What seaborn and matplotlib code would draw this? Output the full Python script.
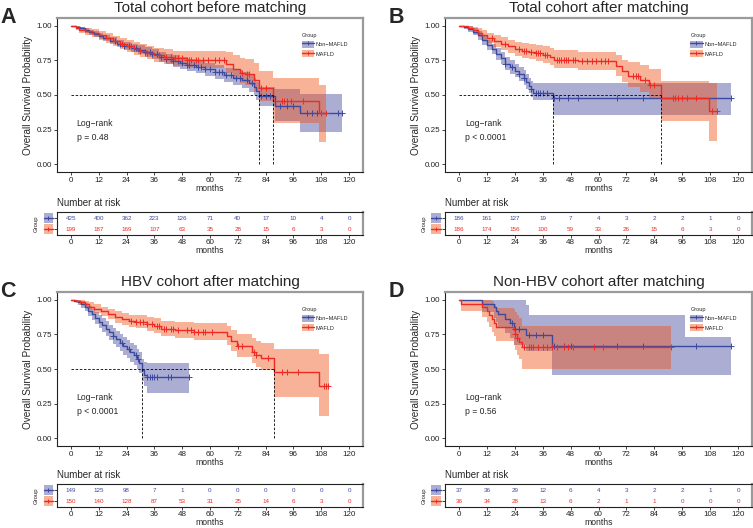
import numpy as np
import matplotlib
matplotlib.use("Agg")
import matplotlib.pyplot as plt
import seaborn as sns
from matplotlib.patches import Patch, Rectangle
from matplotlib.lines import Line2D
from matplotlib.transforms import blended_transform_factory

sns.set_style("ticks")
plt.rcParams["font.family"] = ["Liberation Sans", "DejaVu Sans"]

W, H = 753, 528

# Colours (fills are drawn with FILL_ALPHA)
NON_LINE = "#3B4A9E"
NON_FILL = "#474B9F"
MAF_LINE = "#EE2A24"
MAF_FILL = "#EF541A"
FILL_ALPHA = 0.45

# ---------------- Panel A: total cohort before matching ----------------
A_non_t = [0, 2, 4, 6, 8, 10, 12, 14, 17, 20, 23, 26, 29, 32, 35, 38, 41, 44, 47, 50, 54, 58, 62, 66, 70, 74, 77, 79, 80, 81, 88, 99, 117]
A_non_s = [1.0, 0.99, 0.98, 0.965, 0.952, 0.94, 0.928, 0.912, 0.89, 0.87, 0.855, 0.84, 0.825, 0.81, 0.795, 0.775, 0.76, 0.745, 0.73, 0.715, 0.70, 0.685, 0.665, 0.645, 0.625, 0.61, 0.585, 0.56, 0.53, 0.49, 0.42, 0.37, 0.37]
A_non_lo = [1.0, 0.98, 0.967, 0.95, 0.935, 0.92, 0.905, 0.888, 0.865, 0.843, 0.826, 0.81, 0.793, 0.777, 0.76, 0.738, 0.722, 0.705, 0.688, 0.672, 0.655, 0.638, 0.616, 0.594, 0.572, 0.553, 0.525, 0.497, 0.463, 0.42, 0.31, 0.23, 0.23]
A_non_hi = [1.0, 1.0, 0.993, 0.98, 0.97, 0.96, 0.95, 0.936, 0.915, 0.897, 0.884, 0.87, 0.857, 0.843, 0.83, 0.812, 0.798, 0.785, 0.772, 0.758, 0.745, 0.732, 0.714, 0.696, 0.678, 0.667, 0.645, 0.623, 0.597, 0.56, 0.54, 0.51, 0.51]
A_non_cens = [19, 21, 23, 25, 27, 28, 30, 32, 34, 35, 37, 39, 41, 43, 44, 46, 48, 50, 51, 53, 55, 56, 58, 60, 62, 64, 65, 67, 69, 71, 73, 76, 78, 82, 84, 86, 90, 93, 96, 102, 104, 106, 115, 117]

A_maf_t = [0, 2, 3.5, 6, 9, 12, 15, 18, 21, 24, 27, 30, 33, 36, 40, 44, 50, 67, 70, 73, 75, 79, 81, 87, 107, 110]
A_maf_s = [1.0, 0.985, 0.97, 0.96, 0.945, 0.93, 0.91, 0.89, 0.87, 0.85, 0.835, 0.82, 0.805, 0.79, 0.775, 0.765, 0.755, 0.72, 0.69, 0.66, 0.65, 0.61, 0.55, 0.46, 0.37, 0.37]
A_maf_lo = [1.0, 0.968, 0.948, 0.935, 0.917, 0.9, 0.876, 0.853, 0.83, 0.808, 0.79, 0.773, 0.756, 0.739, 0.722, 0.71, 0.698, 0.655, 0.62, 0.585, 0.572, 0.525, 0.455, 0.30, 0.16, 0.16]
A_maf_hi = [1.0, 1.0, 0.993, 0.986, 0.975, 0.962, 0.945, 0.928, 0.91, 0.893, 0.88, 0.867, 0.853, 0.84, 0.828, 0.82, 0.815, 0.81, 0.79, 0.77, 0.76, 0.73, 0.67, 0.62, 0.57, 0.57]
A_maf_cens = [22, 26, 30, 33, 38, 41, 43, 45, 46, 48, 50, 51, 52, 54, 55, 57, 59, 62, 64, 66, 74, 76, 77, 82, 84, 91, 92, 93, 95, 100, 108, 110]

# ---------------- Panel B: total cohort after matching ----------------
B_non_t = [0, 2, 4, 6, 8, 10, 12, 14, 16, 18, 20, 22, 24, 26, 28, 29, 30, 31, 32, 40.5, 117]
B_non_s = [1.0, 0.99, 0.975, 0.955, 0.93, 0.895, 0.86, 0.83, 0.795, 0.765, 0.725, 0.70, 0.675, 0.65, 0.625, 0.595, 0.565, 0.54, 0.518, 0.475, 0.475]
B_non_lo = [1.0, 0.975, 0.955, 0.93, 0.9, 0.862, 0.824, 0.792, 0.755, 0.722, 0.68, 0.654, 0.627, 0.6, 0.573, 0.542, 0.511, 0.485, 0.462, 0.357, 0.357]
B_non_hi = [1.0, 1.0, 0.995, 0.98, 0.96, 0.93, 0.898, 0.87, 0.838, 0.81, 0.773, 0.75, 0.727, 0.705, 0.68, 0.652, 0.622, 0.598, 0.583, 0.587, 0.587]
B_non_cens = [20, 23, 26, 28, 31, 33, 34, 35, 36, 38, 41, 43, 47, 51, 68, 79, 117]

B_maf_t = [0, 2, 4, 6, 8, 10, 12, 15, 18, 21, 24, 27, 30, 33, 36, 39, 41, 51, 67.5, 70, 72.5, 78, 81.5, 87, 107.5, 111]
B_maf_s = [1.0, 0.995, 0.985, 0.965, 0.95, 0.93, 0.91, 0.89, 0.87, 0.85, 0.83, 0.82, 0.81, 0.80, 0.79, 0.775, 0.755, 0.742, 0.707, 0.67, 0.64, 0.61, 0.57, 0.475, 0.383, 0.383]
B_maf_lo = [1.0, 0.985, 0.968, 0.94, 0.92, 0.896, 0.872, 0.848, 0.825, 0.803, 0.78, 0.768, 0.756, 0.745, 0.732, 0.715, 0.693, 0.678, 0.635, 0.593, 0.557, 0.52, 0.47, 0.31, 0.17, 0.17]
B_maf_hi = [1.0, 1.0, 1.0, 0.99, 0.98, 0.965, 0.95, 0.933, 0.916, 0.90, 0.883, 0.875, 0.866, 0.858, 0.85, 0.838, 0.822, 0.812, 0.785, 0.755, 0.735, 0.715, 0.69, 0.60, 0.59, 0.59]
B_maf_cens = [14, 20, 26, 28, 29, 31, 33, 34, 35, 37, 38, 42, 43, 44, 45, 46, 47, 49, 50, 53, 55, 57, 59, 61, 63, 64, 75, 76, 77, 80, 82, 84, 92, 93, 94, 96, 98, 102, 109, 111]

# ---------------- Panel C: HBV cohort after matching ----------------
C_non_t = [0, 1.5, 3, 4.5, 6, 7.5, 9, 10.5, 12, 13.5, 15, 16.5, 18, 19.5, 21, 22.5, 24, 25.5, 27, 28.5, 29.5, 30.8, 31.5, 33, 51]
C_non_s = [1.0, 0.993, 0.98, 0.965, 0.945, 0.92, 0.895, 0.865, 0.84, 0.815, 0.79, 0.765, 0.74, 0.715, 0.69, 0.665, 0.645, 0.62, 0.60, 0.575, 0.545, 0.49, 0.46, 0.44, 0.44]
C_non_lo = [1.0, 0.98, 0.96, 0.94, 0.915, 0.885, 0.855, 0.822, 0.793, 0.765, 0.737, 0.71, 0.683, 0.656, 0.629, 0.602, 0.58, 0.553, 0.53, 0.503, 0.47, 0.41, 0.375, 0.33, 0.33]
C_non_hi = [1.0, 1.0, 1.0, 0.99, 0.975, 0.955, 0.935, 0.91, 0.888, 0.866, 0.843, 0.82, 0.797, 0.774, 0.751, 0.728, 0.71, 0.687, 0.67, 0.647, 0.62, 0.57, 0.55, 0.545, 0.545]
C_non_cens = [18, 22, 25, 28, 29, 33, 34, 35, 36, 37, 42, 43, 51]

C_maf_t = [0, 2, 4, 6, 8, 10, 13, 16, 19, 22, 25, 28, 33, 36, 39, 45, 53, 67.5, 69, 71.5, 78, 80, 82, 87.4, 107, 111.5]
C_maf_s = [1.0, 0.99, 0.98, 0.965, 0.95, 0.935, 0.915, 0.895, 0.875, 0.86, 0.845, 0.84, 0.825, 0.81, 0.79, 0.78, 0.77, 0.74, 0.70, 0.665, 0.62, 0.60, 0.58, 0.475, 0.38, 0.38]
C_maf_lo = [1.0, 0.975, 0.96, 0.94, 0.922, 0.905, 0.882, 0.858, 0.835, 0.818, 0.80, 0.793, 0.775, 0.758, 0.735, 0.722, 0.71, 0.675, 0.63, 0.59, 0.54, 0.515, 0.49, 0.30, 0.16, 0.16]
C_maf_hi = [1.0, 1.0, 1.0, 0.99, 0.98, 0.968, 0.95, 0.934, 0.918, 0.904, 0.892, 0.888, 0.876, 0.864, 0.848, 0.84, 0.834, 0.81, 0.78, 0.755, 0.72, 0.705, 0.69, 0.645, 0.61, 0.61]
C_maf_cens = [26, 28, 30, 31, 33, 35, 37, 38, 40, 41, 43, 44, 46, 50, 52, 53, 55, 57, 58, 61, 72, 74, 79, 80, 85, 91, 93, 98, 109, 110, 111]

# ---------------- Panel D: non-HBV cohort after matching ----------------
D_non_t = [0, 10, 15, 16, 17, 20, 22, 23.7, 28.7, 30, 40, 97, 117]
D_non_s = [1.0, 0.97, 0.944, 0.92, 0.896, 0.86, 0.83, 0.789, 0.748, 0.748, 0.667, 0.667, 0.667]
D_non_lo = [1.0, 0.91, 0.87, 0.84, 0.80, 0.76, 0.72, 0.67, 0.63, 0.63, 0.46, 0.46, 0.46]
D_non_hi = [1.0, 1.0, 1.0, 1.0, 1.0, 1.0, 1.0, 1.0, 0.96, 0.887, 0.887, 0.73, 0.73]
D_non_cens = [23, 24, 26, 30, 33, 36, 41, 45, 48, 68, 79, 102, 117]

D_maf_t = [0, 1, 10, 12, 13, 14, 15, 16, 23.5, 24, 25, 26, 27, 91]
D_maf_s = [1.0, 0.972, 0.944, 0.917, 0.889, 0.861, 0.833, 0.806, 0.778, 0.75, 0.722, 0.694, 0.661, 0.661]
D_maf_lo = [1.0, 0.92, 0.875, 0.84, 0.805, 0.77, 0.735, 0.705, 0.67, 0.64, 0.60, 0.57, 0.50, 0.50]
D_maf_hi = [1.0, 1.0, 1.0, 1.0, 1.0, 0.99, 0.97, 0.94, 0.93, 0.91, 0.89, 0.87, 0.81, 0.81]
D_maf_cens = [24, 25, 28, 30, 31, 32, 34, 36, 38, 40, 42, 45, 47, 49, 58, 62, 91]

# ---------------- Number at risk ----------------
risk_times = [0, 12, 24, 36, 48, 60, 72, 84, 96, 108, 120]
A_risk_non = [425, 400, 362, 223, 126, 71, 40, 17, 10, 4, 0]
A_risk_maf = [199, 187, 169, 107, 63, 35, 28, 15, 6, 3, 0]
B_risk_non = [186, 161, 127, 19, 7, 4, 3, 2, 2, 1, 0]
B_risk_maf = [186, 174, 156, 100, 59, 33, 26, 15, 6, 3, 0]
C_risk_non = [149, 125, 98, 7, 1, 0, 0, 0, 0, 0, 0]
C_risk_maf = [150, 140, 128, 87, 53, 31, 25, 14, 6, 3, 0]
D_risk_non = [37, 36, 29, 12, 6, 4, 3, 2, 2, 1, 0]
D_risk_maf = [36, 34, 28, 13, 6, 2, 1, 1, 0, 0, 0]

titles = ["Total cohort before matching", "Total cohort after matching",
          "HBV cohort after matching", "Non-HBV cohort after matching"]
letters = ["A", "B", "C", "D"]
pvals = ["p = 0.48", "p < 0.0001", "p < 0.0001", "p = 0.56"]
group_names = ["Non\u2212MAFLD", "MAFLD"]


def rect(x0, y0, x1, y1):
    # pixel box (top-left origin) -> figure fraction
    return [x0 / W, 1 - y1 / H, (x1 - x0) / W, (y1 - y0) / H]


def step_value(t, s, c):
    idx = np.searchsorted(t, c, side="right") - 1
    return np.asarray(s)[idx]


def median_time(t, s):
    for ti, si in zip(t, s):
        if si <= 0.5:
            return ti
    return None


def style_box(ax, top_dark=False):
    for side in ["left", "bottom"]:
        ax.spines[side].set_color("#222222")
        ax.spines[side].set_linewidth(0.8)
    ax.spines["top"].set_color("#222222" if top_dark else "#9a9a9a")
    ax.spines["top"].set_linewidth(0.8 if top_dark else 1.6)
    ax.spines["right"].set_color("#9a9a9a")
    ax.spines["right"].set_linewidth(1.6)
    ax.spines["top"].set_visible(True)
    ax.spines["right"].set_visible(True)


def draw_km(ax, groups, pval):
    medians = []
    for g in groups:
        ax.fill_between(g["t"], g["lo"], g["hi"], step="post", color=g["fill"],
                        alpha=FILL_ALPHA, linewidth=0)
    for g in groups:
        sns.lineplot(x=g["t"], y=g["s"], ax=ax, color=g["line"], linewidth=1.0,
                     drawstyle="steps-post", estimator=None)
        cy = step_value(g["t"], g["s"], g["cens"])
        ax.plot(g["cens"], cy, ls="none", marker="+", ms=4, mew=0.7, color=g["line"])
        m = median_time(g["t"], g["s"])
        if m is not None:
            medians.append(m)
    if medians:
        ax.plot([0, max(medians)], [0.5, 0.5], ls=(0, (3, 2)), color="black", lw=0.6)
        for m in medians:
            ax.plot([m, m], [0, 0.5], ls=(0, (3, 2)), color="black", lw=0.6)
    ax.text(2.5, 0.295, "Log\u2212rank", fontsize=6.2, va="center", ha="left")
    ax.text(2.5, 0.197, pval, fontsize=6.2, va="center", ha="left")

    ax.set_xlim(-6, 126)
    ax.set_ylim(-0.055, 1.055)
    ax.set_xticks(risk_times)
    ax.set_yticks([0, 0.25, 0.5, 0.75, 1.0])
    ax.set_yticklabels(["0.00", "0.25", "0.50", "0.75", "1.00"])
    ax.tick_params(labelsize=5.8, length=2, width=0.6, pad=1.5, colors="#222222")
    ax.set_xlabel("months", fontsize=6.2, labelpad=0.3)
    ax.set_ylabel("")
    style_box(ax)

    handles = [(Patch(facecolor=g["fill"], alpha=FILL_ALPHA, edgecolor="none"),
                Line2D([], [], color=g["line"], lw=1.0, marker="+", ms=3.5, mew=0.7))
               for g in groups]
    ax.legend(handles, group_names, title="Group", loc="upper left",
              bbox_to_anchor=(0.79, 0.92), frameon=False, fontsize=4,
              title_fontsize=4, handlelength=2.2, handleheight=1.6,
              labelspacing=0.45, borderpad=0, handletextpad=0.3,
              alignment="left")


def draw_risk(ax, groups, risk_non, risk_maf):
    for row, vals, g in [(1, risk_non, groups[0]), (0, risk_maf, groups[1])]:
        for tm, n in zip(risk_times, vals):
            ax.text(tm, row, str(n), ha="center", va="center", fontsize=4.5, color=g["line"])
    ax.set_xlim(-6, 126)
    ax.set_ylim(-0.55, 1.6)
    ax.set_xticks(risk_times)
    ax.set_yticks([0, 1])
    ax.set_yticklabels(["", ""])
    ax.tick_params(labelsize=5.8, length=2, width=0.6, pad=1.2, colors="#222222")
    ax.set_xlabel("months", fontsize=6.2, labelpad=0)
    style_box(ax, top_dark=True)
    # group keys in place of the y tick labels
    trans = blended_transform_factory(ax.transAxes, ax.transData)
    x0 = -13.5 / 306
    x1 = -4.0 / 306
    for row, g in [(1, groups[0]), (0, groups[1])]:
        ax.add_patch(Rectangle((x0, row - 0.47), x1 - x0, 0.94, transform=trans,
                               facecolor=g["fill"], alpha=FILL_ALPHA, edgecolor="none",
                               clip_on=False))
        ax.add_line(Line2D([x0, x1], [row, row], transform=trans, color=g["line"],
                           lw=1.0, clip_on=False))
        ax.add_line(Line2D([(x0 + x1) / 2], [row], transform=trans, color=g["line"],
                           marker="+", ms=3.5, mew=0.7, ls="none", clip_on=False))


panels = [
    dict(non=(A_non_t, A_non_s, A_non_lo, A_non_hi, A_non_cens),
         maf=(A_maf_t, A_maf_s, A_maf_lo, A_maf_hi, A_maf_cens),
         risk=(A_risk_non, A_risk_maf), x=(57, 363), y=(18, 172), ry=(212, 235)),
    dict(non=(B_non_t, B_non_s, B_non_lo, B_non_hi, B_non_cens),
         maf=(B_maf_t, B_maf_s, B_maf_lo, B_maf_hi, B_maf_cens),
         risk=(B_risk_non, B_risk_maf), x=(445, 752), y=(18, 172), ry=(212, 235)),
    dict(non=(C_non_t, C_non_s, C_non_lo, C_non_hi, C_non_cens),
         maf=(C_maf_t, C_maf_s, C_maf_lo, C_maf_hi, C_maf_cens),
         risk=(C_risk_non, C_risk_maf), x=(57, 363), y=(292, 446), ry=(484, 507)),
    dict(non=(D_non_t, D_non_s, D_non_lo, D_non_hi, D_non_cens),
         maf=(D_maf_t, D_maf_s, D_maf_lo, D_maf_hi, D_maf_cens),
         risk=(D_risk_non, D_risk_maf), x=(445, 752), y=(292, 446), ry=(484, 507)),
]

fig = plt.figure(figsize=(W / 100, H / 100), dpi=100)

for i, p in enumerate(panels):
    groups = []
    for key, line, fill in [("non", NON_LINE, NON_FILL), ("maf", MAF_LINE, MAF_FILL)]:
        t, s, lo, hi, cens = p[key]
        groups.append(dict(t=np.array(t), s=np.array(s), lo=np.array(lo), hi=np.array(hi),
                           cens=np.array(cens), line=line, fill=fill))
    x0, x1 = p["x"]
    y0, y1 = p["y"]
    ax = fig.add_axes(rect(x0, y0, x1, y1))
    draw_km(ax, groups, pvals[i])

    ry0, ry1 = p["ry"]
    rax = fig.add_axes(rect(x0, ry0, x1, ry1))
    draw_risk(rax, groups, *p["risk"])

    # titles, panel letters, labels
    fig.text((x0 + x1) / 2 / W, 1 - (y0 - 5.7) / H, titles[i], ha="center",
             va="baseline", fontsize=11)
    fig.text((x0 - 56.5) / W, 1 - (y0 + 5) / H, letters[i], ha="left",
             va="baseline", fontsize=15.5, fontweight="bold")
    fig.text((x0 - 29) / W, 1 - ((y0 + y1) / 2) / H, "Overall Survival Probability",
             rotation=90, ha="center", va="center", fontsize=7.2)
    fig.text(x0 / W, 1 - (ry0 - 5.5) / H, "Number at risk", ha="left",
             va="baseline", fontsize=7)
    fig.text((x0 - 20.5) / W, 1 - ((ry0 + ry1) / 2) / H, "Group", rotation=90,
             ha="center", va="center", fontsize=4.3)

fig.savefig("out.png", dpi=100)
